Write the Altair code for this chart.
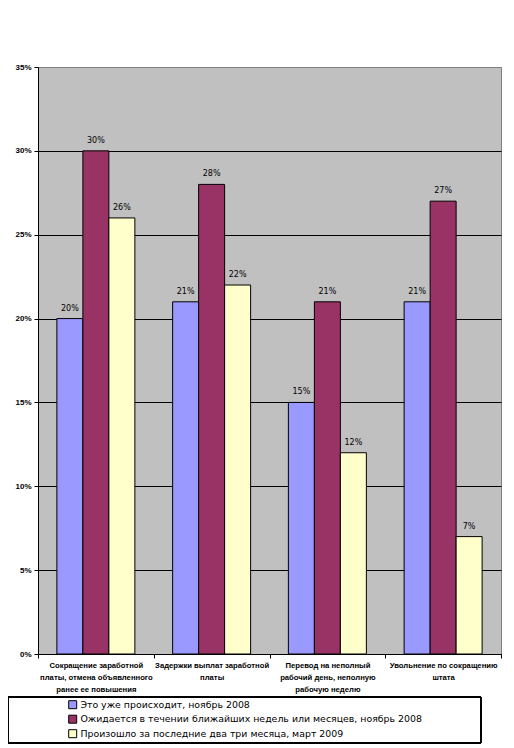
import altair as alt
import pandas as pd

categories = [
    "Сокращение заработной\nплаты, отмена объявленного\nранее ее повышения",
    "Задержки выплат заработной\nплаты",
    "Перевод на неполный\nрабочий день, неполную\nрабочую неделю",
    "Увольнение по сокращению\nштата",
]
series = [
    "Это уже происходит, ноябрь 2008",
    "Ожидается в течении ближайших недель или месяцев, ноябрь 2008",
    "Произошло за последние два три месяца, март 2009",
]
values_nov2008_now = [0.20, 0.21, 0.15, 0.21]
values_nov2008_expected = [0.30, 0.28, 0.21, 0.27]
values_mar2009 = [0.26, 0.22, 0.12, 0.07]
colors = ["#9999FF", "#993366", "#FFFFCC"]
y_ticks = [0, 0.05, 0.10, 0.15, 0.20, 0.25, 0.30, 0.35]

rows = []
for s, vals in zip(series, [values_nov2008_now, values_nov2008_expected, values_mar2009]):
    for c, v in zip(categories, vals):
        rows.append({"cat": c, "series": s, "value": v})
df = pd.DataFrame(rows)

x_enc = alt.X(
    "cat:N",
    sort=categories,
    scale=alt.Scale(paddingInner=0, paddingOuter=0),
    axis=alt.Axis(
        title=None,
        labelAngle=0,
        labelExpr="split(datum.label, '\\n')",
        labelFont="Liberation Sans",
        labelFontWeight="bold",
        labelFontSize=7.7,
        labelLineHeight=12,
        labelColor="black",
        labelPadding=3,
        labelLimit=200,
        tickBand="extent",
        tickSize=4,
        tickColor="black",
        domainColor="black",
        grid=False,
    ),
)
xoff_enc = alt.XOffset(
    "series:N", sort=series, scale=alt.Scale(paddingInner=0, paddingOuter=0.726)
)
y_enc = alt.Y(
    "value:Q",
    scale=alt.Scale(domain=[0, 0.35], nice=False, zero=True),
    axis=alt.Axis(
        title=None,
        values=y_ticks,
        format=".0%",
        labelFont="Liberation Sans",
        labelFontWeight="bold",
        labelFontSize=8,
        labelColor="black",
        labelPadding=3,
        tickSize=4,
        tickColor="black",
        domainColor="black",
        grid=True,
        gridColor={"condition": {"test": "datum.value >= 0.35", "value": "#808080"}, "value": "black"},
        gridOpacity=1,
        gridWidth=1,
    ),
)
color_enc = alt.Color(
    "series:N",
    sort=series,
    scale=alt.Scale(domain=series, range=colors),
    legend=alt.Legend(
        title=None,
        orient="none",
        legendX=30,
        legendY=633,
        direction="vertical",
        symbolType="square",
        symbolSize=64,
        symbolStrokeColor="black",
        symbolStrokeWidth=1,
        symbolOpacity=1,
        labelFont="DejaVu Sans",
        labelFontSize=9.4,
        labelColor="black",
        labelOffset=3,
        labelLimit=500,
        rowPadding=1.5,
        padding=0,
    ),
)

bars = alt.Chart(df).mark_bar(stroke="black", strokeWidth=1, opacity=1).encode(
    x=x_enc, xOffset=xoff_enc, y=y_enc, color=color_enc
)
labels = alt.Chart(df).mark_text(
    baseline="bottom", dy=-6, font="DejaVu Sans", fontSize=8, color="black"
).encode(
    x=alt.X("cat:N", sort=categories),
    xOffset=alt.XOffset("series:N", sort=series),
    y="value:Q",
    text=alt.Text("value:Q", format=".0%"),
)
legend_box = alt.Chart(df).mark_rect(
    fill=None, stroke="black", strokeWidth=1, clip=False
).encode(
    x=alt.value(-30), x2=alt.value(443), y=alt.value(630), y2=alt.value(676)
)

chart = (
    alt.layer(bars, labels, legend_box)
    .properties(
        width=463,
        height=587,
        autosize=alt.AutoSizeParams(type="none"),
        padding={"left": 30, "top": 59, "right": 5, "bottom": 90},
        background="white",
    )
    .configure_view(fill="#C0C0C0", stroke="#808080", strokeWidth=1)
)

chart.save("out.html", embed_options={"renderer": "svg", "actions": False})
